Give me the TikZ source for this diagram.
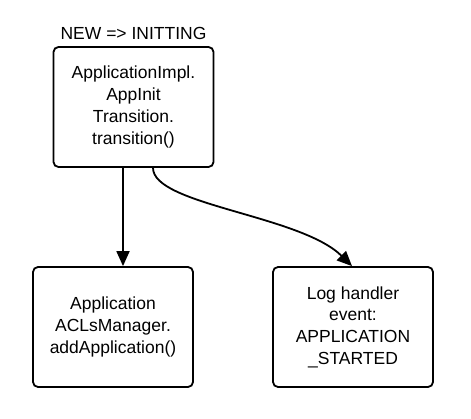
\documentclass[tikz,border=0pt]{standalone}
\usepackage{fontspec}
\setmainfont{Liberation Sans}
\usetikzlibrary{arrows.meta}
\begin{document}
\begin{tikzpicture}[x=1pt,y=-1pt,
  box/.style={draw,line width=1.8pt,rounded corners=5pt,minimum width=160pt,minimum height=120pt,align=center,font=\fontsize{17.5}{21.7}\selectfont,inner sep=0pt},
  conn/.style={line width=1.8pt,-{Triangle[length=15pt,width=13pt]}}]
\useasboundingbox (0,0) rectangle (471,419);
\node[box] (a) at (133.5,107) {ApplicationImpl.\\AppInit\\Transition.\\transition()};
\node[font=\fontsize{17.5}{21}\selectfont,anchor=base] (lbl) at (133.5,40) {NEW => INITTING};
\node[box] (b) at (113,327) {Application\\ACLsManager.\\addApplication()};
\node[box] (c) at (353,327) {Log handler\\event:\\APPLICATION\\\_STARTED};
\draw[conn] (a.south -| 123,0) -- (b.north -| 123,0);
\draw[conn] (a.south -| 153,0) .. controls (153,205) and (300,215) .. (c.north -| 352,0);
\end{tikzpicture}
\end{document}
